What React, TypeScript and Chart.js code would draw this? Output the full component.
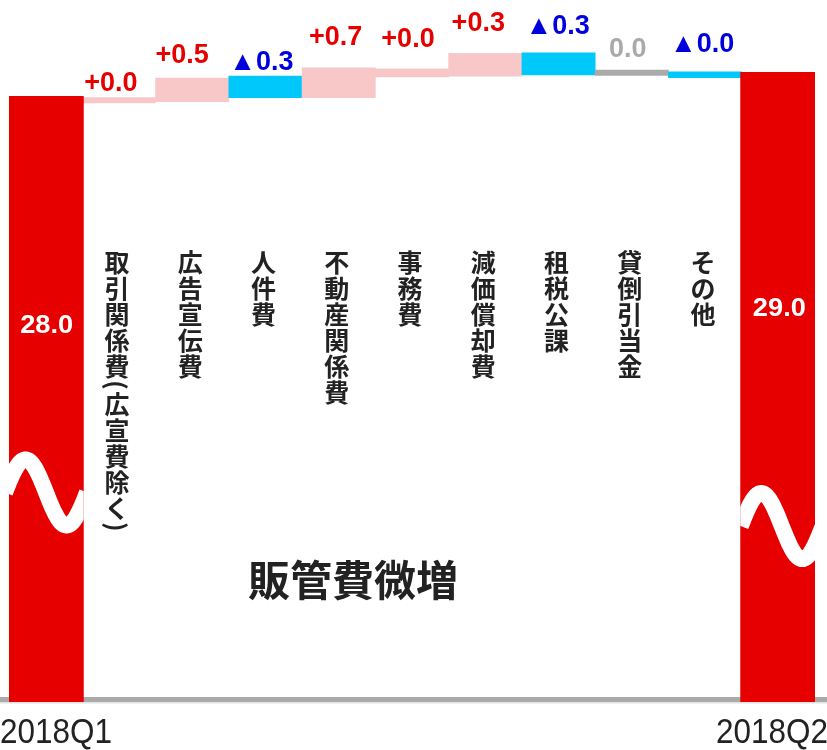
import React, { useEffect, useRef } from "react";
import { Chart, registerables } from "chart.js";

Chart.register(...registerables);

// ---------- data ----------
const categories = [
  "2018Q1",
  "取引関係費(広宣費除く)",
  "広告宣伝費",
  "人件費",
  "不動産関係費",
  "事務費",
  "減価償却費",
  "租税公課",
  "貸倒引当金",
  "その他",
  "2018Q2",
];
const totalValues = [28.0, 29.0];
const totalLabels = ["28.0", "29.0"];
const stepLow = [27.71, 27.76, 27.93, 27.93, 28.8, 28.83, 28.88, 28.86, 28.76];
const stepHigh = [27.93, 28.75, 28.83, 29.17, 29.13, 29.78, 29.8, 29.08, 29.01];
const stepLabels = ["+0.0", "+0.5", "▲0.3", "+0.7", "+0.0", "+0.3", "▲0.3", "0.0", "▲0.0"];
const stepKinds = ["up", "up", "down", "up", "up", "up", "down", "flat", "down"];
const headline = "販管費微増";
const axisMin = 2.75;
const axisMax = 32;

// ---------- styles ----------
const RED = "rgb(230,0,0)";
const barColors: Record<string, string> = { up: "rgb(248,200,201)", down: "rgb(0,200,250)", flat: "#aaaaaa" };
const textColors: Record<string, string> = { up: "rgb(230,0,0)", down: "rgb(0,0,220)", flat: "#aaaaaa" };
const labelDx = [-8, -10, -4, -3, -4, -7, -1, -4, -3];
const labelLift = [7, 15, 6, 23, 22, 22, 19, 13, 20];
const breakAt = [11.48, 10.08];
const breakPeak = [18, 21];
const totalLabelY = [326, 309];
const DARK = "#222222";
const CJK = "'Noto Sans CJK JP', 'Noto Sans CJK SC', sans-serif";
const LAT = "'Liberation Sans', Arial, sans-serif";

function fillScaled(ctx: CanvasRenderingContext2D, text: string, x: number, y: number, width: number, align: string) {
  const w = ctx.measureText(text).width;
  const s = width / w;
  ctx.save();
  ctx.translate(x, y);
  ctx.scale(s, 1);
  ctx.textAlign = align as CanvasTextAlign;
  ctx.fillText(text, 0, 0);
  ctx.restore();
}

function drawVertical(ctx: CanvasRenderingContext2D, text: string, cx: number, top: number) {
  let y = top;
  const pitch = 26;
  const half = 12;
  ctx.textAlign = "center";
  ctx.textBaseline = "middle";
  for (const ch of Array.from(text)) {
    if (ch === "(" || ch === ")") {
      ctx.save();
      ctx.translate(cx, y + half / 2);
      ctx.rotate(Math.PI / 2);
      ctx.fillText(ch, 0, 0);
      ctx.restore();
      y += half;
    } else {
      ctx.fillText(ch, cx, y + pitch / 2);
      y += pitch;
    }
  }
}

const decor = {
  id: "decor",
  beforeDatasetsDraw(chart: any) {
    const ctx = chart.ctx as CanvasRenderingContext2D;
    const base = chart.scales.y.getPixelForValue(axisMin);
    ctx.save();
    ctx.fillStyle = "#aaaaaa";
    ctx.fillRect(0, base - 5, chart.width, 5);
    ctx.fillStyle = "#e2e2e2";
    ctx.fillRect(0, base, chart.width, 1.5);
    ctx.restore();
  },
  afterDatasetsDraw(chart: any) {
    const ctx = chart.ctx as CanvasRenderingContext2D;
    const meta = chart.getDatasetMeta(0);
    const yS = chart.scales.y;
    const xS = chart.scales.x;
    const last = categories.length - 1;

    // axis-break waves on the two total bars
    [0, last].forEach((idx, k) => {
      const bar = meta.data[idx];
      const { x, width } = bar.getProps(["x", "width"], true);
      const left = x - width / 2;
      const cy = yS.getPixelForValue(breakAt[k]);
      const period = 82;
      const start = left + breakPeak[k] - period / 4;
      ctx.save();
      ctx.beginPath();
      ctx.rect(left, 0, width, chart.height);
      ctx.clip();
      ctx.beginPath();
      const N = 80;
      for (let t = 0; t <= N; t++) {
        const px = start + (period * t) / N;
        const py = cy - 33 * Math.sin((2 * Math.PI * t) / N);
        if (t === 0) ctx.moveTo(px, py);
        else ctx.lineTo(px, py);
      }
      ctx.lineWidth = 16;
      ctx.strokeStyle = "#ffffff";
      ctx.lineCap = "butt";
      ctx.lineJoin = "round";
      ctx.stroke();
      ctx.restore();
    });

    // total labels inside bars
    ctx.save();
    ctx.fillStyle = "#ffffff";
    ctx.font = `bold 25px ${LAT}`;
    ctx.textBaseline = "middle";
    [0, last].forEach((idx, k) => {
      const cx = xS.getPixelForValue(idx) + 1;
      fillScaled(ctx, totalLabels[k], cx, totalLabelY[k], 53, "center");
    });
    ctx.restore();

    // step value labels
    ctx.save();
    ctx.font = `bold 27px ${LAT}`;
    ctx.textAlign = "center";
    ctx.textBaseline = "alphabetic";
    stepLabels.forEach((lab, i) => {
      const cx = xS.getPixelForValue(i + 1) + labelDx[i];
      const top = yS.getPixelForValue(stepHigh[i]);
      ctx.fillStyle = textColors[stepKinds[i]];
      ctx.fillText(lab, cx, top - labelLift[i]);
    });
    ctx.restore();

    // vertical category labels
    ctx.save();
    ctx.fillStyle = DARK;
    ctx.font = `bold 25px ${CJK}`;
    for (let i = 1; i < last; i++) {
      const cx = xS.getPixelForValue(i) - 2;
      drawVertical(ctx, categories[i], cx, 249);
    }
    ctx.restore();

    // period labels under axis
    ctx.save();
    ctx.fillStyle = DARK;
    ctx.font = `35px ${LAT}`;
    ctx.textBaseline = "alphabetic";
    const baseY = yS.getPixelForValue(axisMin) + 41;
    fillScaled(ctx, categories[0], 0, baseY, 112, "left");
    fillScaled(ctx, categories[last], chart.width + 1, baseY, 112, "right");
    ctx.restore();

    // headline
    ctx.save();
    ctx.fillStyle = DARK;
    ctx.font = `bold 42px ${CJK}`;
    ctx.textAlign = "center";
    ctx.textBaseline = "middle";
    ctx.fillText(headline, 353, 580);
    ctx.restore();
  },
};

export default function App() {
  const ref = useRef<HTMLCanvasElement | null>(null);
  useEffect(() => {
    if (!ref.current) return;
    const n = categories.length;
    const totalData: any[] = new Array(n).fill(null);
    totalData[0] = [axisMin, totalValues[0]];
    totalData[n - 1] = [axisMin, totalValues[1]];
    const stepData: any[] = [null, ...stepLow.map((lo, i) => [lo, stepHigh[i]]), null];
    const stepColors = ["rgba(0,0,0,0)", ...stepKinds.map((k) => barColors[k]), "rgba(0,0,0,0)"];
    const chart = new Chart(ref.current, {
      type: "bar",
      data: {
        labels: categories,
        datasets: [
          {
            data: totalData,
            backgroundColor: RED,
            borderWidth: 0,
            categoryPercentage: 1,
            barPercentage: 1.04,
            grouped: false,
          } as any,
          {
            data: stepData,
            backgroundColor: stepColors,
            borderWidth: 0,
            categoryPercentage: 1,
            barPercentage: 1,
            grouped: false,
          } as any,
        ],
      },
      options: {
        responsive: false,
        animation: false,
        layout: { padding: { left: 9, right: 12, top: 0, bottom: 48 } },
        plugins: { legend: { display: false }, tooltip: { enabled: false } },
        scales: {
          x: { display: false },
          y: { display: false, min: axisMin, max: axisMax },
        },
      },
      plugins: [decor],
    });
    return () => chart.destroy();
  }, []);
  return (
    <div style={{ position: "absolute", left: 0, top: 0, width: 827, height: 750, background: "#fff" }}>
      <canvas ref={ref} width={827} height={750} style={{ width: 827, height: 750, display: "block" }} />
    </div>
  );
}
